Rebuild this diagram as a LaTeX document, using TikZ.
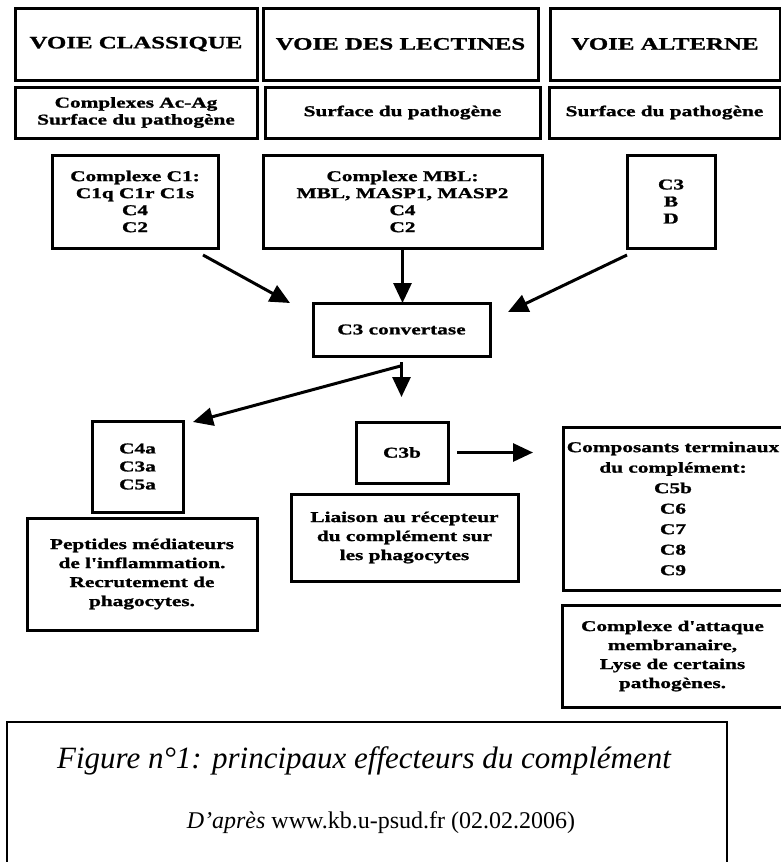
\documentclass[tikz,border=0pt]{standalone}
\usepackage{fontspec}
\setmainfont{Liberation Serif}
\newfontfamily\dfont[FakeStretch=1.42,FakeBold=1.3]{Liberation Serif}
\usetikzlibrary{arrows.meta}
\begin{document}
\begin{tikzpicture}[x=1pt,y=-1pt,
  box/.style={draw, line width=3pt, align=center, inner sep=0pt, outer sep=0pt,
    font=\dfont\bfseries\fontsize{15}{18}\selectfont},
  head/.style={box, font=\dfont\bfseries\fontsize{17.5}{20}\selectfont},
  arr/.style={line width=3pt, -{Triangle[length=20pt,width=18pt]}},
  capt/.style={anchor=base, inner sep=0pt}]
\useasboundingbox (0,0) rectangle (781,862);
\clip (0,0) rectangle (781,862);
% headers
\node[head, minimum width=242, minimum height=72] (h1) at (136,44) {VOIE CLASSIQUE};
\node[head, minimum width=275, minimum height=72] (h2) at (400.5,44) {VOIE DES LECTINES};
\node[head, minimum width=230, minimum height=72] (h3) at (665,44) {VOIE ALTERNE};
% surfaces
\node[box, minimum width=242, minimum height=51, font=\dfont\bfseries\fontsize{15}{17}\selectfont] (s1) at (136,112.5) {Complexes Ac-Ag\\Surface du pathogène};
\node[box, minimum width=275, minimum height=51] (s2) at (402.5,112.5) {Surface du pathogène};
\node[box, minimum width=231, minimum height=51] (s3) at (664.5,112.5) {Surface du pathogène};
% complexes
\node[box, minimum width=166, minimum height=93, font=\dfont\bfseries\fontsize{15}{17}\selectfont] (c1) at (135,201.5) {Complexe C1:\\C1q C1r C1s\\C4\\C2};
\node[box, minimum width=279, minimum height=93, font=\dfont\bfseries\fontsize{15}{17}\selectfont] (mbl) at (402.5,201.5) {Complexe MBL:\\MBL, MASP1, MASP2\\C4\\C2};
\node[box, minimum width=88, minimum height=93, font=\dfont\bfseries\fontsize{15}{17}\selectfont] (bd) at (671,201.5) {C3\\B\\D};
% convertase
\node[box, minimum width=177, minimum height=53] (conv) at (401.5,329.5) {C3 convertase};
% products
\node[box, minimum width=91, minimum height=91] (c4a) at (137.5,466.5) {C4a\\C3a\\C5a};
\node[box, minimum width=230, minimum height=112, font=\dfont\bfseries\fontsize{15}{19}\selectfont] (pep) at (142,574) {Peptides médiateurs\\de l'inflammation.\\Recrutement de\\phagocytes.};
\node[box, minimum width=92, minimum height=61] (c3b) at (402,452.5) {C3b};
\node[box, minimum width=227, minimum height=87, font=\dfont\bfseries\fontsize{15}{19}\selectfont] (lia) at (404.5,537.5) {Liaison au récepteur\\du complément sur\\les phagocytes};
\node[box, minimum width=220, minimum height=163, font=\dfont\bfseries\fontsize{15}{20.5}\selectfont] (comp) at (673,508.5) {Composants terminaux\\du complément:\\C5b\\C6\\C7\\C8\\C9};
\node[box, minimum width=221, minimum height=102, font=\dfont\bfseries\fontsize{15}{19}\selectfont] (att) at (672.5,656) {Complexe d'attaque\\membranaire,\\Lyse de certains\\pathogènes.};
% arrows
\draw[arr] ([shift={(-15,7)}]c1.south east) -- ([shift={(-23,0)}]conv.north west);
\draw[arr] (mbl.south) -- (mbl.south |- conv.north);
\draw[arr] ([shift={(0,7)}]bd.south west) -- ([shift={(18,9)}]conv.north east);
\draw[arr] ([shift={(0,6)}]conv.south) -- ([shift={(0,41)}]conv.south);
\draw[arr] ([shift={(-1,10)}]conv.south) -- ([shift={(10,1)}]c4a.north east);
\draw[arr] ([shift={(9,0)}]c3b.east) -- ([shift={(85,0)}]c3b.east);
% caption frame
\draw[line width=1.3pt] (7,890) -- (7,722) -- (727,722) -- (727,890);
\node[capt, font=\fontsize{31}{36}\selectfont\itshape] (cap1) at (364,768) {Figure n°1: principaux effecteurs du complément};
\node[capt, font=\fontsize{24}{28}\selectfont] (cap2) at (381,828) {\textit{D'après} www.kb.u-psud.fr (02.02.2006)};
\end{tikzpicture}
\end{document}
